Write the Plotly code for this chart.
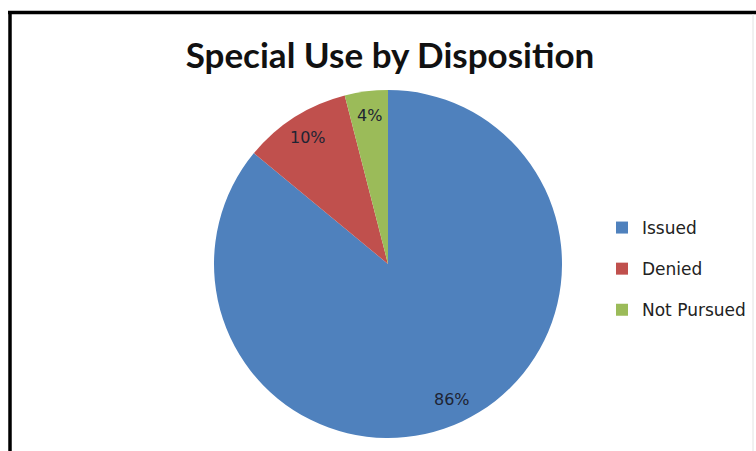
import numpy as np
import plotly.graph_objects as go

labels = ["Issued", "Denied", "Not Pursued"]
values = [86, 10, 4]
colors = ["#4F81BD", "#C0504D", "#9BBB59"]
title_text = "Special Use by Disposition"

W, H = 756, 451
cx, cy, r = 388, 264, 174
label_frac = 0.86

fig = go.Figure()
fig.add_trace(go.Pie(
    labels=labels, values=values, sort=False, direction="clockwise", rotation=0,
    marker=dict(colors=colors, line=dict(width=0)),
    textinfo="none",
    domain=dict(x=[(cx - r) / W, (cx + r) / W], y=[(H - cy - r) / H, (H - cy + r) / H]),
    showlegend=False, hoverinfo="label+percent",
))
for lab, col in zip(labels, colors):
    fig.add_trace(go.Scatter(
        x=[None], y=[None], mode="markers", name=lab, legendgroup=lab,
        marker=dict(symbol="square", size=12, color=col),
    ))

# percent labels placed at slice mid-angles (Excel best-fit style)
vals = np.array(values, dtype=float)
total = vals.sum()
mid = (np.cumsum(vals) - vals / 2) / total * 2 * np.pi
annotations = []
for v, a in zip(vals, mid):
    px = cx + label_frac * r * np.sin(a)
    py = cy - label_frac * r * np.cos(a)
    annotations.append(dict(
        x=px / W, y=1 - py / H, xref="paper", yref="paper", showarrow=False,
        text=f"{round(v / total * 100)}%", xanchor="center", yanchor="middle",
        font=dict(family="DejaVu Sans", size=16, color="#1e2433"),
    ))

fig.update_layout(
    width=W, height=H, margin=dict(l=0, r=0, t=0, b=0),
    paper_bgcolor="white", plot_bgcolor="white",
    xaxis=dict(visible=False), yaxis=dict(visible=False),
    title=dict(text="<b>" + title_text + "</b>", x=390 / W, xanchor="center",
               y=1 - 56 / H, yanchor="middle",
               font=dict(family="Lato", size=35, color="#111111")),
    legend=dict(x=602 / W, y=1 - 210 / H, xanchor="left", yanchor="top",
                tracegroupgap=16, itemwidth=30,
                font=dict(family="DejaVu Sans", size=17, color="#222222"),
                bgcolor="rgba(0,0,0,0)"),
    annotations=annotations,
    shapes=[
        dict(type="line", xref="paper", yref="paper", x0=8 / W, x1=1, y0=1 - 12.5 / H, y1=1 - 12.5 / H,
             line=dict(color="black", width=3.5)),
        dict(type="line", xref="paper", yref="paper", x0=10 / W, x1=10 / W, y0=0, y1=1 - 12.5 / H,
             line=dict(color="black", width=3.5)),
        dict(type="line", xref="paper", yref="paper", x0=753 / W, x1=753 / W, y0=0, y1=1 - 14 / H,
             line=dict(color="#e2e2e2", width=1)),
    ],
)
fig.write_html("out.html", config={"displayModeBar": False},
               post_script="document.body.style.margin='0';")
